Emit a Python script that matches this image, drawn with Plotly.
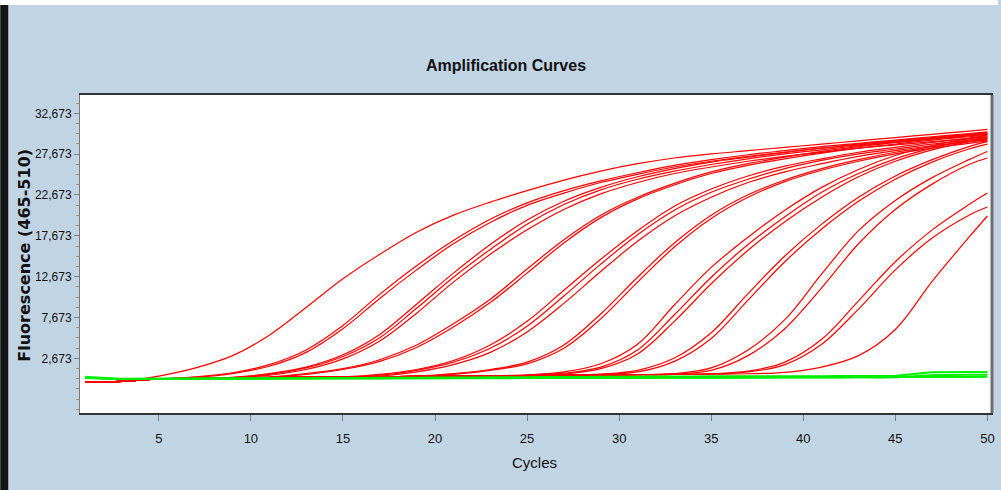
import plotly.graph_objects as go

# ---------------- data ----------------
cycles = [1, 3, 5, 7, 9, 11, 13, 15, 17, 19, 21, 23, 25, 27, 29, 31, 33, 35, 37, 39, 41, 43, 45, 47, 49, 50]

red_A  = [-250, -150, 500, 1500, 3000, 5500, 8900, 12400, 15400, 18100, 20200, 21800, 23200, 24500, 25600, 26500, 27200, 27700, 28100, 28500, 28900, 29300, 29700, 30100, 30500, 30700]
red_B1 = [-250, -150, 150, 400, 900, 1900, 3700, 6700, 10500, 14000, 17100, 19700, 21700, 23200, 24400, 25400, 26300, 27000, 27600, 28100, 28600, 29000, 29400, 29800, 30200, 30400]
red_B2 = [-250, -150, 150, 350, 800, 1700, 3400, 6300, 10000, 13500, 16700, 19300, 21400, 22900, 24200, 25200, 26100, 26800, 27400, 27900, 28400, 28800, 29200, 29600, 30000, 30200]
red_C1 = [-250, -150, 150, 200, 350, 800, 1600, 3100, 5600, 9300, 13100, 16600, 19600, 21900, 23600, 24900, 25900, 26700, 27300, 27900, 28400, 28900, 29300, 29700, 30100, 30300]
red_C2 = [-250, -150, 150, 200, 300, 700, 1500, 2900, 5200, 8800, 12600, 16000, 19100, 21500, 23300, 24600, 25600, 26400, 27100, 27700, 28200, 28700, 29100, 29500, 29900, 30100]
red_C3 = [-250, -150, 150, 200, 300, 600, 1300, 2600, 4800, 8200, 12000, 15400, 18400, 20900, 22800, 24200, 25300, 26100, 26800, 27400, 27900, 28400, 28800, 29200, 29600, 29800]
red_D1 = [-250, -150, 150, 200, 250, 400, 800, 1400, 2500, 4300, 6900, 9900, 13600, 17200, 20200, 22400, 24100, 25500, 26500, 27300, 28000, 28600, 29100, 29600, 30000, 30200]
red_D2 = [-250, -150, 150, 200, 250, 350, 700, 1300, 2300, 4000, 6500, 9500, 13100, 16800, 19900, 22200, 23900, 25300, 26300, 27100, 27800, 28400, 28900, 29400, 29800, 30000]
red_E1 = [-250, -150, 150, 200, 250, 300, 350, 400, 700, 1300, 2400, 4300, 7200, 11000, 14800, 18300, 21300, 23400, 25000, 26200, 27100, 27900, 28500, 29100, 29600, 29800]
red_E2 = [-250, -150, 150, 200, 250, 300, 350, 380, 600, 1200, 2200, 3900, 6600, 10300, 14200, 17800, 20800, 23000, 24600, 25900, 26900, 27700, 28300, 28900, 29400, 29600]
red_E3 = [-250, -150, 150, 200, 250, 300, 350, 380, 500, 1000, 1900, 3400, 5900, 9400, 13300, 17000, 20100, 22400, 24200, 25500, 26500, 27400, 28100, 28700, 29200, 29400]
red_F1 = [-250, -150, 150, 200, 250, 300, 350, 380, 420, 500, 800, 1300, 2200, 4300, 8100, 12600, 16800, 20200, 22700, 24500, 25900, 27000, 27900, 28600, 29200, 29500]
red_F2 = [-250, -150, 150, 200, 250, 300, 350, 380, 420, 460, 700, 1200, 2000, 3900, 7500, 12000, 16300, 19800, 22400, 24300, 25700, 26800, 27700, 28400, 29000, 29300]
red_G1 = [-250, -150, 150, 200, 250, 300, 350, 380, 420, 450, 480, 520, 650, 1000, 2000, 4400, 9200, 13800, 17500, 20800, 23600, 25800, 27500, 28700, 29600, 30000]
red_G2 = [-250, -150, 150, 200, 250, 300, 350, 380, 420, 450, 480, 520, 600, 850, 1600, 3700, 8000, 12600, 16600, 20000, 23000, 25300, 27100, 28400, 29400, 29800]
red_G3 = [-250, -150, 150, 200, 250, 300, 350, 380, 420, 450, 480, 520, 580, 750, 1400, 3200, 7200, 11800, 15900, 19400, 22400, 24900, 26800, 28200, 29200, 29700]
red_H1 = [-250, -150, 150, 200, 250, 300, 350, 380, 420, 450, 480, 520, 560, 620, 750, 1200, 2700, 5800, 10600, 15200, 19100, 22400, 25000, 27000, 28600, 29200]
red_H2 = [-250, -150, 150, 200, 250, 300, 350, 380, 420, 450, 480, 520, 560, 600, 680, 1000, 2300, 5100, 9800, 14500, 18500, 21900, 24600, 26700, 28300, 28900]
red_I1 = [-250, -150, 150, 200, 250, 300, 350, 380, 420, 450, 480, 520, 560, 600, 630, 680, 800, 1500, 3700, 7400, 13000, 18300, 22000, 24800, 27000, 28000]
red_I2 = [-250, -150, 150, 200, 250, 300, 350, 380, 420, 450, 480, 520, 560, 600, 630, 660, 740, 1200, 3000, 6300, 11300, 16700, 20900, 24000, 26400, 27200]
red_J1 = [-250, -150, 150, 200, 250, 300, 350, 380, 420, 450, 480, 520, 560, 600, 630, 660, 700, 780, 1100, 2200, 5000, 9700, 14500, 18400, 21500, 22900]
red_J2 = [-250, -150, 150, 200, 250, 300, 350, 380, 420, 450, 480, 520, 560, 600, 630, 660, 700, 760, 1000, 1900, 4400, 8700, 13500, 17400, 20200, 21200]
red_K  = [-250, -150, 150, 200, 250, 300, 350, 380, 420, 450, 480, 520, 560, 600, 630, 660, 700, 730, 780, 950, 1600, 3000, 6200, 12100, 17500, 20100]

green_1 = [420, 170, 170, 180, 190, 200, 210, 220, 230, 240, 250, 260, 270, 280, 290, 300, 310, 320, 330, 340, 350, 360, 370, 380, 390, 400]
green_2 = [300, 150, 160, 180, 200, 220, 240, 260, 280, 300, 320, 340, 360, 380, 400, 420, 440, 460, 470, 480, 490, 500, 520, 950, 1000, 1000]
green_3 = [250, 140, 150, 160, 170, 180, 190, 200, 210, 220, 230, 240, 250, 260, 270, 280, 290, 300, 310, 320, 330, 340, 350, 600, 650, 650]

red_curves = [red_A, red_B1, red_B2, red_C1, red_C2, red_C3, red_D1, red_D2,
              red_E1, red_E2, red_E3, red_F1, red_F2, red_G1, red_G2, red_G3,
              red_H1, red_H2, red_I1, red_I2, red_J1, red_J2, red_K]
green_curves = [green_1, green_2, green_3]

x_tick_vals = [5, 10, 15, 20, 25, 30, 35, 40, 45, 50]
y_tick_vals = [2673, 7673, 12673, 17673, 22673, 27673, 32673]
y_tick_text = [f"{v:,}" for v in y_tick_vals]

title_text = "Amplification Curves"
x_title = "Cycles"
y_title = "Fluorescence (465-510)"

# ---------------- figure ----------------
SANS = "Liberation Sans, Arial, sans-serif"

fig = go.Figure()
for ys in red_curves:
    fig.add_trace(go.Scatter(x=cycles, y=ys, mode="lines",
                             line=dict(color="#ff0000", width=1.2, shape="spline", smoothing=1.0),
                             hoverinfo="skip", showlegend=False))
for ys in green_curves:
    fig.add_trace(go.Scatter(x=cycles, y=ys, mode="lines",
                             line=dict(color="#00ee00", width=2, shape="spline", smoothing=0.6),
                             hoverinfo="skip", showlegend=False))

L, R, T, B = 80, 6, 95, 77
W, H = 1001, 490
pw, ph = W - L - R, H - T - B


def px_x(p):
    return (p - L) / pw


def px_y(p):
    return (H - B - p) / ph


fig.update_layout(
    width=W, height=H,
    margin=dict(l=L, r=R, t=T, b=B, pad=0),
    paper_bgcolor="#C1D4E4",
    plot_bgcolor="#ffffff",
    showlegend=False,
)

fig.update_xaxes(
    range=[0.72, 50.25], tickmode="array", tickvals=x_tick_vals,
    ticks="outside", ticklen=6, tickcolor="#808080", tickwidth=1,
    showgrid=False, zeroline=False,
    showline=True, linecolor="#333333", linewidth=2, mirror=True,
    tickfont=dict(family=SANS, size=13, color="#111111"),
    ticklabelstandoff=6,
)
fig.update_yaxes(
    range=[-4025, 34914], tickmode="array", tickvals=y_tick_vals, ticktext=y_tick_text,
    ticks="outside", ticklen=5, tickcolor="#808080", tickwidth=1,
    minor=dict(ticks="outside", ticklen=3, tickcolor="#909090", tickmode="linear",
               tick0=2673, dtick=1250, showgrid=False),
    showgrid=False, zeroline=False,
    showline=True, linecolor="#7a7a7a", linewidth=1, mirror=True,
    tickfont=dict(family=SANS, size=12, color="#111111"),
    ticklabelstandoff=0,
)

fig.add_annotation(text=f"<b>{title_text}</b>", xref="paper", yref="paper",
                   x=px_x(507), y=px_y(66), xanchor="center", yanchor="middle",
                   showarrow=False, font=dict(family=SANS, size=16, color="#111111"))
fig.add_annotation(text=x_title, xref="paper", yref="paper",
                   x=px_x(536), y=px_y(462), xanchor="center", yanchor="middle",
                   showarrow=False, font=dict(family=SANS, size=15, color="#111111"))
fig.add_annotation(text=f"<b>{y_title}</b>", xref="paper", yref="paper",
                   x=px_x(23.5), y=px_y(255), xanchor="center", yanchor="middle",
                   textangle=-90, showarrow=False,
                   font=dict(family="DejaVu Sans, Verdana, sans-serif", size=16, color="#111111"))

# window decorations: white strip at top, black bar at left, thick right frame
fig.add_shape(type="rect", xref="paper", yref="paper",
              x0=px_x(0), x1=px_x(W), y0=px_y(5), y1=px_y(0),
              fillcolor="#ffffff", line=dict(width=0), layer="above")
fig.add_shape(type="rect", xref="paper", yref="paper",
              x0=px_x(0), x1=px_x(8), y0=px_y(H), y1=px_y(5),
              fillcolor="#141414", line=dict(width=0), layer="above")
fig.add_shape(type="line", xref="paper", yref="paper",
              x0=px_x(995), x1=px_x(995), y0=0, y1=1,
              line=dict(color="#6e6e6e", width=3), layer="above")

fig.write_html("out.html",
               config={"displayModeBar": False},
               post_script="document.body.style.margin='0px';document.body.style.overflow='hidden';")
